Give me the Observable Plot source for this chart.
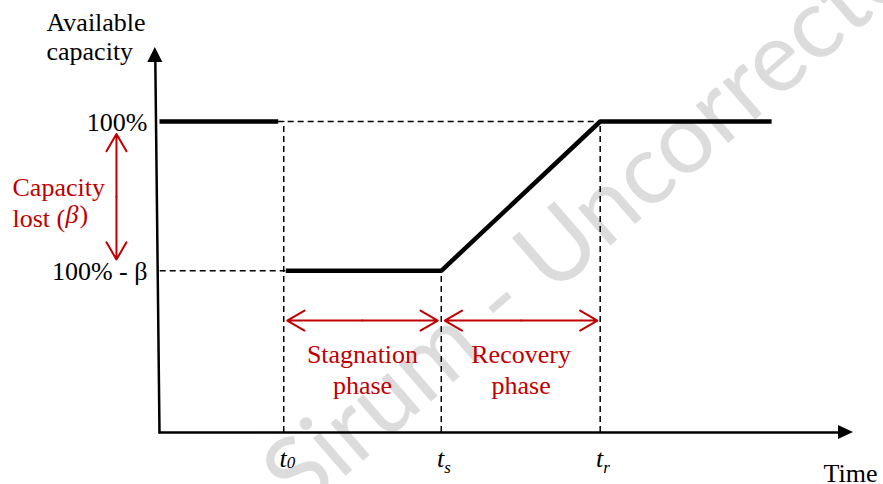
<!DOCTYPE html>
<html>
<head>
<meta charset="utf-8">
<script src="https://cdn.jsdelivr.net/npm/d3@7"></script>
<script src="https://cdn.jsdelivr.net/npm/@observablehq/plot@0.6"></script>
<style>
  html, body { margin: 0; padding: 0; background: #ffffff; }
  #chart svg { display: block; }
</style>
</head>
<body>
<div id="chart"></div>
<script>
// ---- Data (time in arbitrary units, capacity in %) ----
const timeValues = [17.9, 40.6, 63.5];          // t0, ts, tr
const timeMain = ["t", "t", "t"];
const timeSub = ["0", "s", "r"];
const timeGuideTop = [100, 52, 100];             // dashed guide heights

const capacityLevels = [100, 52];                // 100% and 100% - β
const capacityLabels = ["100%", "100% - β"];

const curveBefore = [[0, 100], [17.1, 100]];
const curveAfter = [[18.2, 52], [40.6, 52], [63.5, 100], [88.2, 100]];

const guideLevelStart = [17.1, 0.1];
const guideLevelEnd = [63.5, 18.2];

const phaseNames = ["Stagnation\nphase", "Recovery\nphase"];
const phaseStart = [18.4, 41.1];
const phaseEnd = [40.1, 63.1];
const phaseArrowLevel = 36;

const lostArrowTime = -6.2;
const lostArrowFrom = 96;
const lostArrowTo = 55.6;

const yAxisPts = [[0, 0], [-0.6, 119]];
const xAxisPts = [[0, 0], [97.8, 0]];

// ---- Scales ----
const X_RANGE = [159, 853], Y_RANGE = [432, 121];
const pxPerX = (X_RANGE[1] - X_RANGE[0]) / 100;
const pxPerY = (Y_RANGE[0] - Y_RANGE[1]) / 100;

// filled arrowheads for the axes (sizes in px converted to data units)
const yHead = (() => {
  const tipX = -0.6, tipY = (432 - 47) / pxPerY, base = 15 / pxPerY, hw = 7.5 / pxPerX;
  return [{y: tipY, x1: tipX, x2: tipX}, {y: tipY - base, x1: tipX - hw, x2: tipX + hw}];
})();
const xHead = (() => {
  const tipX = 100, base = 15 / pxPerX, hh = 7 / pxPerY;
  return [{x: tipX - base, y1: -hh, y2: hh}, {x: tipX, y1: 0, y2: 0}];
})();

const RED = "#C00000";
const SERIF = "Liberation Serif";
const FS = 26;
const SUB_SHIFT = {"0": 1, "s": 6, "r": 6};

const guides = timeValues.map((t, i) => ({t, top: timeGuideTop[i]}));
const levelGuides = capacityLevels.map((c, i) => ({c, x1: guideLevelStart[i], x2: guideLevelEnd[i]}));
const phases = phaseNames.map((name, i) => ({name, a: phaseStart[i], b: phaseEnd[i], mid: (phaseStart[i] + phaseEnd[i]) / 2}));
const phaseHalves = phases.flatMap(p => [{x1: p.mid, x2: p.a}, {x1: p.mid, x2: p.b}]);
const lostMid = (lostArrowFrom + lostArrowTo) / 2;
const lostHalves = [{y1: lostMid, y2: lostArrowFrom}, {y1: lostMid, y2: lostArrowTo}];
const tLabels = timeValues.map((t, i) => ({t, main: timeMain[i], sub: timeSub[i]}));

const chart = Plot.plot({
  width: 883,
  height: 484,
  margin: 0,
  x: {domain: [0, 100], range: X_RANGE, axis: null},
  y: {domain: [0, 100], range: Y_RANGE, axis: null},
  marks: [
    // watermark
    Plot.text(["Sirum - Uncorrected Proof"], {
      frameAnchor: "bottom-left", dx: 279, dy: 7, rotate: -41,
      textAnchor: "start", lineAnchor: "middle",
      fontSize: 98, fontFamily: "Lato",
      fill: "#dcdcdc"
    }),
    // dashed guides
    Plot.ruleX(guides, {x: "t", y1: 0, y2: "top", stroke: "#000", strokeWidth: 1.5, strokeDasharray: "6,4"}),
    Plot.ruleY(levelGuides, {y: "c", x1: "x1", x2: "x2", stroke: "#000", strokeWidth: 1.5, strokeDasharray: "6,4"}),
    // axes
    Plot.line(yAxisPts, {x: d => d[0], y: d => d[1], stroke: "#000", strokeWidth: 2.5}),
    Plot.line(xAxisPts, {x: d => d[0], y: d => d[1], stroke: "#000", strokeWidth: 2.5}),
    Plot.areaX(yHead, {y: "y", x1: "x1", x2: "x2", fill: "#000"}),
    Plot.areaY(xHead, {x: "x", y1: "y1", y2: "y2", fill: "#000"}),
    // capacity curve
    Plot.line(curveBefore, {x: d => d[0], y: d => d[1], stroke: "#000", strokeWidth: 4.5, strokeLinecap: "butt"}),
    Plot.line(curveAfter, {x: d => d[0], y: d => d[1], stroke: "#000", strokeWidth: 4.5, strokeLinecap: "butt", strokeLinejoin: "miter"}),
    // red double arrows
    Plot.arrow(phaseHalves, {x1: "x1", x2: "x2", y1: phaseArrowLevel, y2: phaseArrowLevel, stroke: RED, strokeWidth: 2, headLength: 15, headAngle: 60}),
    Plot.arrow(lostHalves, {x1: lostArrowTime, x2: lostArrowTime, y1: "y1", y2: "y2", stroke: RED, strokeWidth: 2, headLength: 15, headAngle: 60}),
    // phase labels
    Plot.text(phases, {x: "mid", y: 29.5, text: "name", fill: RED, fontSize: FS, fontFamily: SERIF, lineAnchor: "top", lineHeight: 1.2}),
    // capacity tick labels
    Plot.text(capacityLabels, {x: 0, y: capacityLevels, text: d => d, textAnchor: "end", dx: -12, dy: 1, fontSize: FS, fontFamily: SERIF, fill: "#000"}),
    // time tick labels: italic t with a smaller italic subscript
    Plot.text(tLabels, {x: "t", y: 0, text: "main", textAnchor: "end", dx: 3, dy: 26, fontSize: FS, fontFamily: SERIF, fontStyle: "italic", fill: "#000"}),
    ...tLabels.map(d => Plot.text([d], {x: "t", y: 0, text: "sub", textAnchor: "start", dx: 3, dy: 29 + SUB_SHIFT[d.sub], fontSize: 17, fontFamily: SERIF, fontStyle: "italic", fill: "#000"})),
    // axis titles
    Plot.text(["Available\ncapacity"], {frameAnchor: "top-left", dx: 46, dy: 10, textAnchor: "start", lineAnchor: "top", lineHeight: 1.12, fontSize: FS, fontFamily: SERIF, fill: "#000"}),
    Plot.text(["Time"], {frameAnchor: "bottom-right", dx: -6, dy: -3, textAnchor: "end", lineAnchor: "bottom", fontSize: FS, fontFamily: SERIF, fill: "#000"}),
    // capacity lost label (β in italics)
    Plot.text(["Capacity\nlost ("], {frameAnchor: "top-left", dx: 12, dy: 173, textAnchor: "start", lineAnchor: "top", lineHeight: 1.2, fontSize: FS, fontFamily: SERIF, fill: RED}),
    Plot.text(["β"], {frameAnchor: "top-left", dx: 65, dy: 173 + 1.2 * FS, textAnchor: "start", lineAnchor: "top", fontSize: FS, fontFamily: SERIF, fontStyle: "italic", fill: RED}),
    Plot.text([")"], {frameAnchor: "top-left", dx: 79, dy: 173 + 1.2 * FS, textAnchor: "start", lineAnchor: "top", fontSize: FS, fontFamily: SERIF, fill: RED})
  ]
});
document.getElementById("chart").appendChild(chart);
</script>
</body>
</html>
